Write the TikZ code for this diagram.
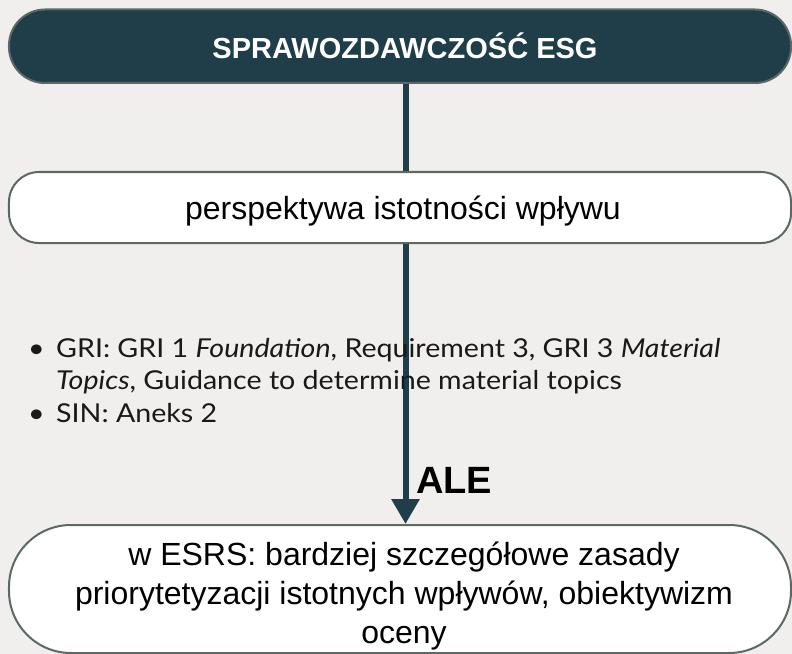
\documentclass[tikz,border=0pt]{standalone}
\usepackage{fontspec}
\setmainfont{Liberation Sans}
\newfontfamily\bulletfont{Lato}[FakeStretch=1.10]
\usetikzlibrary{arrows.meta}
\definecolor{bgc}{HTML}{F0EFED}
\definecolor{darkteal}{HTML}{203E4A}
\definecolor{bordc}{HTML}{5B6865}
\tikzset{
  pill/.style={draw=bordc, line width=2bp, minimum width=782bp, inner sep=0pt},
  boxtext/.style={inner sep=0pt, font=\fontsize{32bp}{39bp}\selectfont, align=center, text=black},
  bultext/.style={inner sep=0pt, anchor=base west, font=\bulletfont\fontsize{26bp}{30bp}\selectfont, text=black!90},
  conn/.style={draw=darkteal, line width=6bp}
}
\begin{document}
\begin{tikzpicture}[x=1bp,y=-1bp]
\useasboundingbox (0,0) rectangle (792,654);
\fill[bgc] (0,0) rectangle (792,654);
\coordinate (ax) at (405.5,0);
% boxes
\node[pill, fill=darkteal, minimum height=73.5bp, rounded corners=36bp] (top) at (400,46.25) {};
\node[pill, fill=white, minimum height=71bp, rounded corners=30bp] (mid) at (400,207.5) {};
\node[pill, fill=white, minimum height=128bp, rounded corners=62bp] (bot) at (400,589) {};
% texts
\node[inner sep=0pt, text=white, font=\bfseries\fontsize{29bp}{34bp}\selectfont] (toptext) at (405,46) {SPRAWOZDAWCZOŚĆ ESG};
\node[boxtext] (midtext) at (403,211) {perspektywa istotności wpływu};
\node[boxtext] (bottext) at (404,596) {w ESRS: bardziej szczegółowe zasady\\priorytetyzacji istotnych wpływów, obiektywizm\\oceny};
% connectors
\draw[conn] (top.south -| ax) -- (mid.north -| ax);
\draw[conn, -{Triangle[width=27bp,length=25bp]}] (mid.south -| ax) -- (bot.north -| ax);
% ALE
\node[inner sep=0pt, anchor=base west, font=\bfseries\fontsize{38bp}{44bp}\selectfont] (ale) at (416,493) {ALE};
% bullets
\node[bultext] (b1) at (28,357) {•};
\node[bultext] (b2) at (28,422) {•};
\node[bultext] (l1) at (56,357) {GRI: GRI 1 \textit{Foundation}, Requirement 3, GRI 3 \textit{Material}};
\node[bultext] (l2) at (56,389) {\textit{Topics}, Guidance to determine material topics};
\node[bultext] (l3) at (56,422) {SIN: Aneks 2};
\end{tikzpicture}
\end{document}
